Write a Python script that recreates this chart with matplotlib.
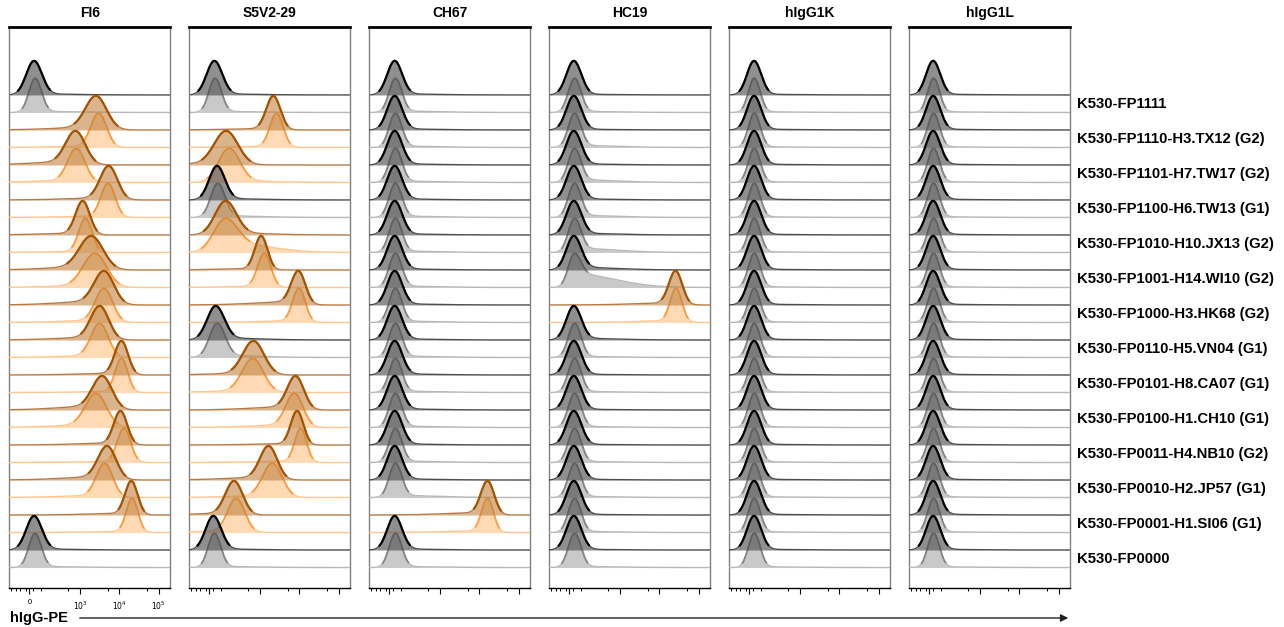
import numpy as np
import matplotlib.pyplot as plt
from matplotlib.patches import FancyArrowPatch
from matplotlib.scale import SymmetricalLogTransform

plt.rcParams['font.family'] = ['Liberation Sans', 'DejaVu Sans']

panels = ['FI6', 'S5V2-29', 'CH67', 'HC19', 'hIgG1K', 'hIgG1L']
samples = ['K530-FP1111', 'K530-FP1110-H3.TX12 (G2)', 'K530-FP1101-H7.TW17 (G2)',
           'K530-FP1100-H6.TW13 (G1)', 'K530-FP1010-H10.JX13 (G2)', 'K530-FP1001-H14.WI10 (G2)',
           'K530-FP1000-H3.HK68 (G2)', 'K530-FP0110-H5.VN04 (G1)', 'K530-FP0101-H8.CA07 (G1)',
           'K530-FP0100-H1.CH10 (G1)', 'K530-FP0011-H4.NB10 (G2)', 'K530-FP0010-H2.JP57 (G1)',
           'K530-FP0001-H1.SI06 (G1)', 'K530-FP0000']

# 1 = binding (orange), 0 = no binding (grey)
fi6_bind = [0, 1, 1, 1, 1, 1, 1, 1, 1, 1, 1, 1, 1, 0]
s5v2_bind = [0, 1, 1, 0, 1, 1, 1, 0, 1, 1, 1, 1, 1, 0]
ch67_bind = [0, 0, 0, 0, 0, 0, 0, 0, 0, 0, 0, 0, 1, 0]
hc19_bind = [0, 0, 0, 0, 0, 0, 1, 0, 0, 0, 0, 0, 0, 0]
k_bind = [0] * 14
l_bind = [0] * 14

# peak PE intensity, upper (dark) and lower (light) replicate
fi6_top = [40, 2500, 750, 5300, 1150, 1900, 4000, 3100, 11200, 3600, 10600, 4800, 20000, 40]
fi6_bot = [50, 2950, 790, 5100, 1350, 2350, 4000, 3100, 11200, 2500, 13000, 4150, 21000, 48]
s5v2_top = [43, 2150, 134, 65, 131, 1050, 9300, 54, 665, 7900, 8700, 1620, 213, 34]
s5v2_bot = [49, 2600, 160, 72, 131, 1260, 9700, 68, 640, 7400, 10700, 2030, 242, 43]
ch67_top = [45, 45, 45, 45, 45, 45, 45, 45, 45, 45, 45, 45, 16000, 45]
ch67_bot = [52, 52, 52, 52, 52, 52, 52, 52, 52, 52, 52, 52, 16000, 52]
hc19_top = [38, 38, 38, 38, 38, 38, 25700, 38, 38, 38, 38, 38, 38, 38]
hc19_bot = [45, 45, 45, 45, 45, 45, 26500, 45, 45, 45, 45, 45, 45, 45]
k_top = [40] * 14
k_bot = [42] * 14
l_top = [32] * 14
l_bot = [36] * 14

# peak spread (decades)
fi6_top_sd = [0.2, 0.27, 0.25, 0.22, 0.18, 0.3, 0.25, 0.23, 0.17, 0.25, 0.17, 0.23, 0.16, 0.2]
fi6_bot_sd = [0.16, 0.2, 0.22, 0.18, 0.17, 0.3, 0.22, 0.22, 0.16, 0.27, 0.17, 0.21, 0.15, 0.16]
s5v2_top_sd = [0.2, 0.18, 0.3, 0.2, 0.27, 0.16, 0.18, 0.22, 0.27, 0.21, 0.16, 0.22, 0.22, 0.2]
s5v2_bot_sd = [0.16, 0.17, 0.27, 0.18, 0.3, 0.17, 0.16, 0.2, 0.27, 0.22, 0.15, 0.25, 0.22, 0.16]
ch67_top_sd = [0.19] * 12 + [0.17, 0.19]
ch67_bot_sd = [0.16] * 12 + [0.15, 0.16]
hc19_top_sd = [0.19] * 6 + [0.17] + [0.19] * 7
hc19_bot_sd = [0.16] * 6 + [0.15] + [0.16] * 7
k_top_sd = [0.18] * 14
k_bot_sd = [0.15] * 14
l_top_sd = [0.18] * 14
l_bot_sd = [0.15] * 14

# shoulder weight: < 0 spreads to the left, > 0 to the right
fi6_top_tail = [0.03, -0.08, -0.1, -0.06, -0.05, -0.1, -0.12, -0.08, -0.05, -0.12, -0.06, -0.1, -0.05, 0.03]
fi6_bot_tail = [0.03, -0.04, -0.06, -0.04, -0.03, -0.06, -0.06, -0.05, -0.03, -0.08, -0.03, -0.06, -0.03, 0.03]
s5v2_top_tail = [0.03, -0.04, -0.05, 0.04, 0.06, -0.04, -0.1, 0.06, -0.05, -0.1, -0.04, -0.08, -0.05, 0.03]
s5v2_bot_tail = [0.03, -0.03, 0.05, 0.05, 0.3, -0.03, -0.05, 0.06, -0.05, -0.08, -0.04, -0.05, -0.04, 0.03]
ch67_top_tail = [0.03] * 12 + [-0.07, 0.03]
ch67_bot_tail = [0.04] * 11 + [0.06, -0.05, 0.03]
hc19_top_tail = [0.02, 0.02, 0.03, 0.03, 0.05, 0.08, -0.06, 0.05, 0.02, 0.02, 0.02, 0.02, 0.02, 0.02]
hc19_bot_tail = [0.03, 0.06, 0.08, 0.06, 0.12, 0.4, -0.05, 0.03, 0.03, 0.03, 0.03, 0.03, 0.03, 0.03]
k_top_tail = [0.02] * 14
k_bot_tail = [0.02] * 14
l_top_tail = [0.02] * 14
l_bot_tail = [0.02] * 14

bind = [fi6_bind, s5v2_bind, ch67_bind, hc19_bind, k_bind, l_bind]
tops = [fi6_top, s5v2_top, ch67_top, hc19_top, k_top, l_top]
bots = [fi6_bot, s5v2_bot, ch67_bot, hc19_bot, k_bot, l_bot]
top_sds = [fi6_top_sd, s5v2_top_sd, ch67_top_sd, hc19_top_sd, k_top_sd, l_top_sd]
bot_sds = [fi6_bot_sd, s5v2_bot_sd, ch67_bot_sd, hc19_bot_sd, k_bot_sd, l_bot_sd]
top_tails = [fi6_top_tail, s5v2_top_tail, ch67_top_tail, hc19_top_tail, k_top_tail, l_top_tail]
bot_tails = [fi6_bot_tail, s5v2_bot_tail, ch67_bot_tail, hc19_bot_tail, k_bot_tail, l_bot_tail]

# styles: (edge, baseline, fill, alpha, peak lw)
dark_grey = ('#000000', '#4d4d4d', '#4a4a4a', 0.62, 1.6)
light_grey = ('#858585', '#b8b8b8', '#c9c9c9', 1.0, 1.3)
dark_orange = ('#a65300', '#b87a45', '#c0823f', 0.6, 1.6)
light_orange = ('#ff9a3a', '#ffc78f', '#ffdab5', 1.0, 1.3)

LINTHRESH, LINSCALE = 100, 0.27
XMIN, XMAX = -163, 195000
tr = SymmetricalLogTransform(10, LINTHRESH, LINSCALE)
t_grid = np.linspace(tr.transform(np.array([XMIN]))[0], tr.transform(np.array([XMAX]))[0], 800)
x_grid = tr.inverted().transform(t_grid)
dec = t_grid / LINTHRESH
HEIGHT = 1.95


def ridge(ax, base, peak, sd, tail, style, z):
    c = tr.transform(np.array([peak]))[0] / LINTHRESH
    g = np.exp(-0.5 * ((dec - c) / sd) ** 2)
    broad = np.exp(-0.5 * (dec - c) ** 2)
    side = dec < c if tail < 0 else dec > c
    a = abs(tail)
    y = np.where(side, (1 - a) * g + a * broad, g)
    edge, line, fill, alpha, lw = style
    top = base + HEIGHT * y
    ax.fill_between(x_grid, base, top, color=fill, alpha=alpha, lw=0, zorder=z)
    ax.plot(x_grid, top, color=line, lw=1.0, zorder=z + 0.3)
    # heavier outline only over the peak itself
    ax.plot(x_grid, np.ma.masked_where(g < 0.12, top), color=edge, lw=lw,
            solid_capstyle='round', zorder=z + 0.5)


W, H = 1284, 627
fig = plt.figure(figsize=(W / 100, H / 100), dpi=100)

for p, name in enumerate(panels):
    left = 9.3 + 180 * p
    ax = fig.add_axes([left / W, 1 - 588 / H, 160.7 / W, (588 - 26.7) / H])
    ax.set_xscale('symlog', linthresh=LINTHRESH, linscale=LINSCALE, base=10)
    for k in range(len(samples)):
        on = bind[p][k]
        # light replicate first, then darker one on top of it
        ridge(ax, -2 * k - 1, bots[p][k], bot_sds[p][k], bot_tails[p][k],
              light_orange if on else light_grey, 4 * k + 1)
        ridge(ax, -2 * k, tops[p][k], top_sds[p][k], top_tails[p][k],
              dark_orange if on else dark_grey, 4 * k + 2)
    ax.set_xlim(XMIN, XMAX)
    ax.set_ylim(-28.17, 3.9)
    ax.set_yticks([])
    ax.set_xticks([0, 1e3, 1e4, 1e5])
    ax.set_xticks([-150, -110, -80, -30, 30, 100, 500, 5000, 50000], minor=True)
    if p == 0:
        ax.set_xticklabels(['0', '$10^3$', '$10^4$', '$10^5$'], fontsize=5.5)
    else:
        ax.set_xticklabels([])
    ax.tick_params(axis='x', which='major', direction='out', length=4, width=0.8, pad=4)
    ax.tick_params(axis='x', which='minor', direction='out', length=2.5, width=0.7)
    for s in ['left', 'right']:
        ax.spines[s].set_color('#808080')
        ax.spines[s].set_linewidth(1.0)
    ax.spines['top'].set_linewidth(2.0)
    ax.spines['bottom'].set_linewidth(1.0)
    ax.set_title(name, fontsize=10, fontweight='bold', pad=7)
    if p == len(panels) - 1:
        for k, lab in enumerate(samples):
            ax.annotate(lab, xy=(1.0, -2 * k - 0.5), xycoords=('axes fraction', 'data'),
                        xytext=(7, 0), textcoords='offset pixels', ha='left', va='center',
                        fontsize=10.7, fontweight='bold', annotation_clip=False)

y_ax = 1 - 618 / H
fig.text(10 / W, y_ax, 'hIgG-PE', fontsize=10.5, fontweight='bold', va='center', ha='left')
fig.add_artist(FancyArrowPatch((77 / W, y_ax), (1071 / W, y_ax), transform=fig.transFigure,
                               arrowstyle='-|>', mutation_scale=11, lw=1.0, color='#222222'))

fig.savefig('out.png', dpi=100)
